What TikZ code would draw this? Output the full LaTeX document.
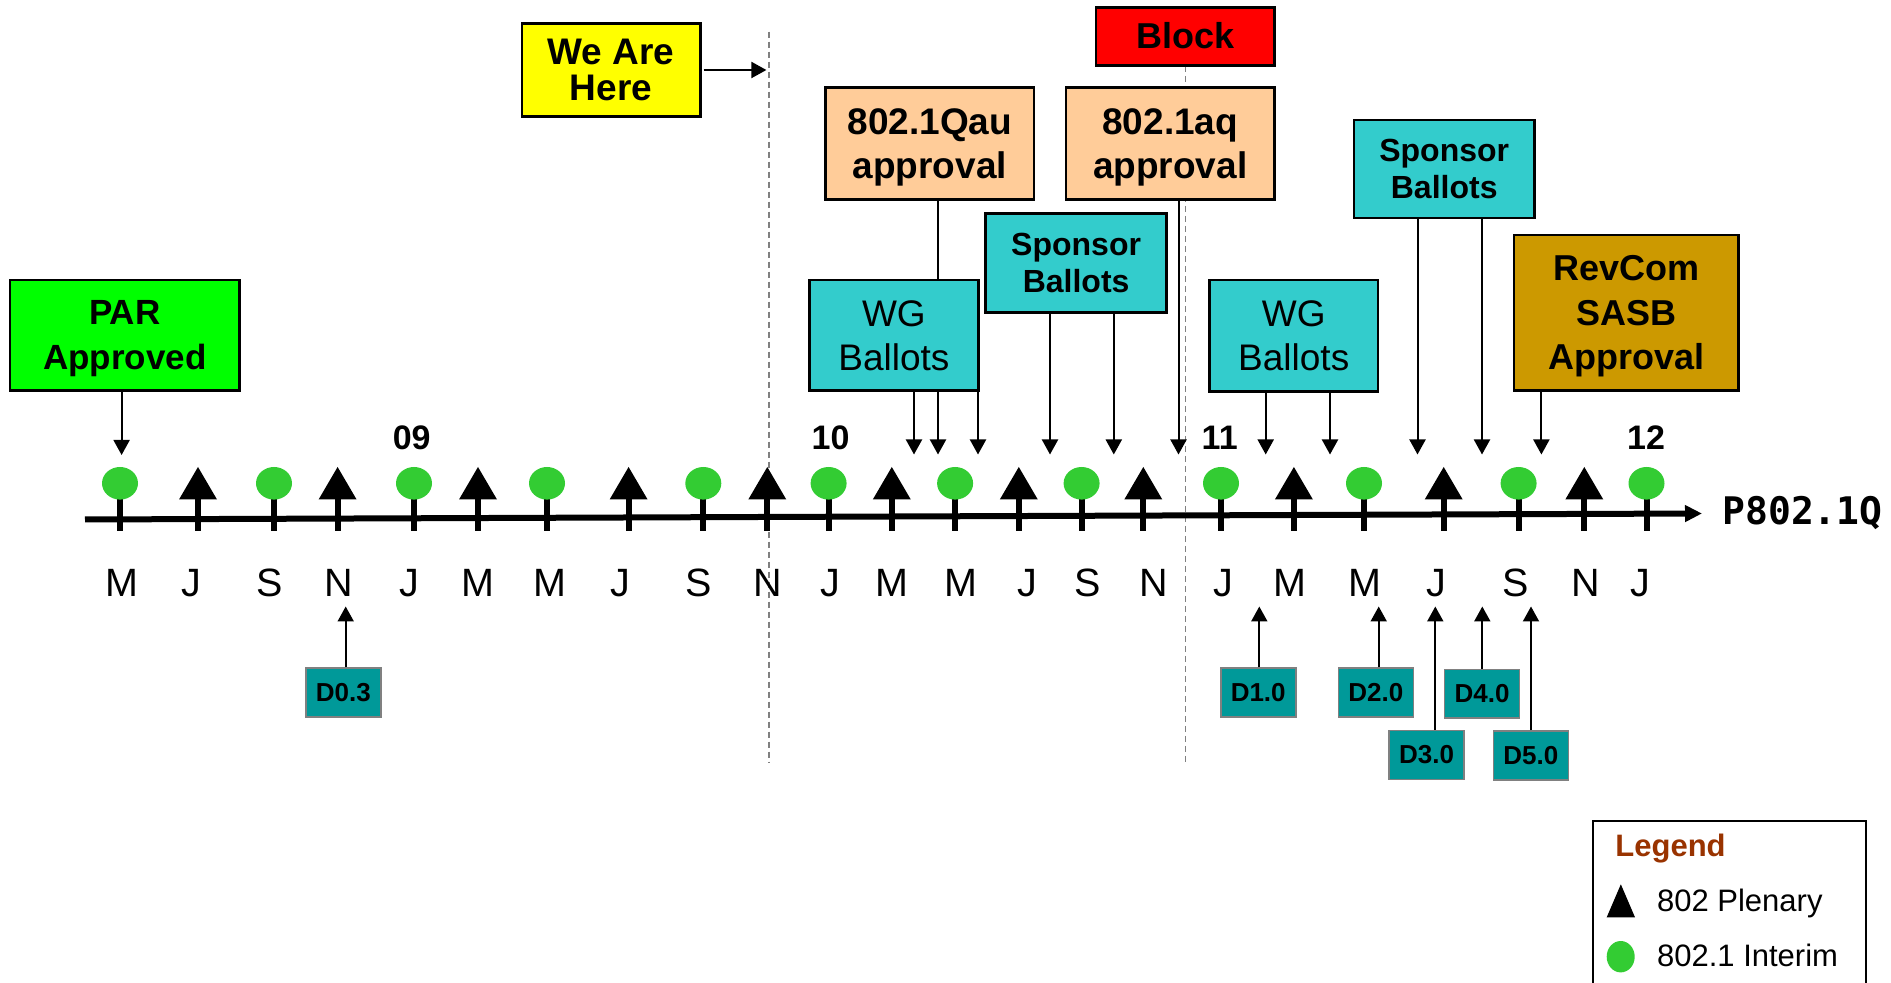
\documentclass[tikz,border=0pt]{standalone}
\usepackage{fontspec}
\setmainfont{Liberation Sans}
\newfontfamily\monofnt{DejaVu Sans Mono}
\usetikzlibrary{arrows.meta}
\definecolor{pargreen}{HTML}{00FF00}
\definecolor{wayellow}{HTML}{FFFF00}
\definecolor{blockred}{HTML}{FF0000}
\definecolor{peach}{HTML}{FFCC99}
\definecolor{tealbox}{HTML}{33CCCC}
\definecolor{revgold}{HTML}{CC9900}
\definecolor{dteal}{HTML}{009999}
\definecolor{dotgreen}{HTML}{33CC33}
\definecolor{legbrown}{HTML}{993300}
\begin{document}
\begin{tikzpicture}[x=0.5pt,y=-0.5pt,
  box/.style={draw=black, line width=1.25pt, align=center, inner sep=0pt},
  dbox/.style={draw=gray, line width=0.8pt, fill=dteal, inner sep=0pt, minimum width=37.5pt, minimum height=24.4pt, font=\fontsize{13}{15}\selectfont\bfseries},
  conn/.style={line width=1pt, -{Triangle[length=7.5pt,width=8pt]}},
  plainline/.style={line width=1pt},
  month/.style={anchor=base, inner sep=0pt, font=\fontsize{19.75}{22}\selectfont},
  year/.style={anchor=base, inner sep=0pt, font=\fontsize{17}{20}\selectfont\bfseries},
  tickline/.style={line width=3pt},
  vdash/.style={draw=gray, line width=0.75pt, dash pattern=on 3pt off 2pt},
  legtext/.style={anchor=base west, inner sep=0pt, font=\fontsize{15.5}{18}\selectfont}
]
\useasboundingbox (0,0) rectangle (1891,983);
\fill[white] (0,0) rectangle (1891,983);
\clip (0,0) rectangle (1891,983);

% dashed "now" lines
\draw[vdash] (769,31.7) -- (769,762);
\draw[vdash] (1185.4,66) -- (1185.4,762);

% axis
\coordinate (axL) at (85,519.5);
\coordinate (axR) at (1702,513.5);
\draw[line width=3pt, -{Triangle[length=8.5pt,width=8pt]}] (axL) -- (axR);
\node[anchor=base west, inner sep=0pt, font=\fontsize{19}{22}\selectfont\monofnt\bfseries] (pq) at (1722,525) {P802.1Q};

% markers
\foreach \x in {120,274,414,547,703.3,828.6,955.1,1081.6,1221,1364,1518.6,1646.5}{
  \draw[tickline] (\x,495) -- (\x,531);
  \fill[dotgreen] (\x,483.3) ellipse [x radius=9pt, y radius=8.15pt];
}
\foreach \x in {198,337.6,478,628.6,767.3,891.8,1018.8,1143.3,1293.9,1443.7,1584.3}{
  \draw[tickline] (\x,499) -- (\x,531);
  \fill[black] (\x-19,499.5) -- (\x+19,499.5) -- (\x,467) -- cycle;
}

% month labels
\foreach \x/\l [count=\i] in {121.6/M,191/J,270/S,338.8/N,409.4/J,478.4/M,550/M,620/J,698.4/S,767.3/N,830.6/J,891.8/M,961/M,1027.8/J,1088/S,1153.5/N,1223/J,1290.3/M,1365.3/M,1436.7/J,1516/S,1585.6/N,1640.7/J}{
  \node[month] (m\i) at (\x,596.5) {\l};
}
% year labels
\node[year] (y09) at (411.7,449.3) {09};
\node[year] (y10) at (830.6,449.3) {10};
\node[year] (y11) at (1219.7,449.3) {11};
\node[year] (y12) at (1646,449.3) {12};

% boxes
\node[box, fill=pargreen, minimum width=114.75pt, minimum height=55.25pt, text depth=0pt, font=\fontsize{17.5}{22.3}\selectfont\bfseries] (par) at (124.75,335.25) {PAR\\Approved};
\node[box, fill=wayellow, minimum width=89.3pt, minimum height=46.7pt, font=\fontsize{18.5}{17.85}\selectfont\bfseries] (we) at (611.1,70) {We Are\\Here};
\node[box, fill=blockred, minimum width=89.35pt, minimum height=29pt, font=\fontsize{18}{21}\selectfont\bfseries] (block) at (1185.15,36.3) {\raisebox{1.2pt}{Block}};
\node[box, fill=peach, minimum width=104.45pt, minimum height=55.8pt, text depth=0pt, font=\fontsize{18.5}{22.2}\selectfont\bfseries] (qau) at (929.75,143.5) {802.1Qau\\approval};
\node[box, fill=peach, minimum width=104.25pt, minimum height=55.8pt, text depth=0pt, font=\fontsize{18.5}{22.2}\selectfont\bfseries] (aq) at (1170.25,143.5) {802.1aq\\approval};
\node[box, fill=tealbox, minimum width=90.5pt, minimum height=49.5pt, font=\fontsize{16}{18.35}\selectfont\bfseries] (spa) at (1076.1,262.8) {Sponsor\\Ballots};
\node[box, fill=tealbox, minimum width=84.4pt, minimum height=55.35pt, font=\fontsize{18.5}{22}\selectfont] (wga) at (893.9,335.35) {WG\\Ballots};
\node[box, fill=tealbox, minimum width=84.25pt, minimum height=55.75pt, font=\fontsize{18.5}{22}\selectfont] (wgb) at (1293.75,335.75) {WG\\Ballots};
\node[box, fill=tealbox, minimum width=90.3pt, minimum height=49pt, font=\fontsize{16}{18.35}\selectfont\bfseries] (spb) at (1444.2,169) {Sponsor\\Ballots};
\node[box, fill=revgold, minimum width=112.25pt, minimum height=77.85pt, text depth=0pt, font=\fontsize{18}{22.25}\selectfont\bfseries] (rev) at (1626.05,312.85) {RevCom\\SASB\\Approval};

\node[dbox] (d03) at (343.35,692.5) {D0.3};
\node[dbox] (d10) at (1258.2,692.5) {D1.0};
\node[dbox] (d20) at (1375.8,692.65) {D2.0};
\node[dbox] (d30) at (1426.5,755) {D3.0};
\node[dbox] (d40) at (1482.15,693.8) {D4.0};
\node[dbox] (d50) at (1530.8,755.35) {D5.0};

% arrow targets
\coordinate (tpar) at (121.6,455);
\coordinate (twe) at (766.4,70);
\coordinate (twa1) at (914,454.5);
\coordinate (twa2) at (938,454.5);
\coordinate (twa3) at (978,454.5);
\coordinate (tsa1) at (1050,454.5);
\coordinate (tsa2) at (1113.8,454.5);
\coordinate (taq) at (1178.5,454.5);
\coordinate (twb1) at (1265.7,454.5);
\coordinate (twb2) at (1330,454.5);
\coordinate (tsb1) at (1417.5,454.5);
\coordinate (tsb2) at (1482,454.5);
\coordinate (trev) at (1541.4,454.5);
\coordinate (td03) at (345.7,606.5);
\coordinate (td10) at (1259.3,606.5);
\coordinate (td20) at (1378.7,606.5);
\coordinate (td30) at (1435.3,606.5);
\coordinate (td40) at (1482.3,606.5);
\coordinate (td50) at (1531,606.5);

% connectors
\draw[conn] (par.south -| tpar) -- (tpar);
\draw[conn] ([xshift=1pt]we.east) -- (twe);
\draw[plainline] (qau.south -| twa2) -- (wga.north -| twa2);
\draw[conn] (wga.south -| twa1) -- (twa1);
\draw[conn] (wga.south -| twa2) -- (twa2);
\draw[conn] (wga.south -| twa3) -- (twa3);
\draw[conn] (spa.south -| tsa1) -- (tsa1);
\draw[conn] (spa.south -| tsa2) -- (tsa2);
\draw[conn] (aq.south -| taq) -- (taq);
\draw[conn] (wgb.south -| twb1) -- (twb1);
\draw[conn] (wgb.south -| twb2) -- (twb2);
\draw[conn] (spb.south -| tsb1) -- (tsb1);
\draw[conn] (spb.south -| tsb2) -- (tsb2);
\draw[conn] (rev.south -| trev) -- (trev);
\draw[conn] (d03.north -| td03) -- (td03);
\draw[conn] (d10.north -| td10) -- (td10);
\draw[conn] (d20.north -| td20) -- (td20);
\draw[conn] (d30.north -| td30) -- (td30);
\draw[conn] (d40.north -| td40) -- (td40);
\draw[conn] (d50.north -| td50) -- (td50);

% legend
\draw[line width=1.1pt] (1593.3,1000) -- (1593.3,820.7) -- (1866,820.7) -- (1866,1000);
\node[legtext, text=legbrown, font=\fontsize{15.5}{18}\selectfont\bfseries] (leg) at (1615,856.7) {Legend};
\fill[black] (1606.7,917.3) -- (1635,917.3) -- (1620.85,884.3) -- cycle;
\node[legtext] (lplen) at (1656.7,911.7) {802 Plenary};
\fill[dotgreen] (1620.7,956.7) ellipse [x radius=7pt, y radius=7.85pt];
\node[legtext] (lint) at (1656.7,966.7) {802.1 Interim};
\end{tikzpicture}
\end{document}
